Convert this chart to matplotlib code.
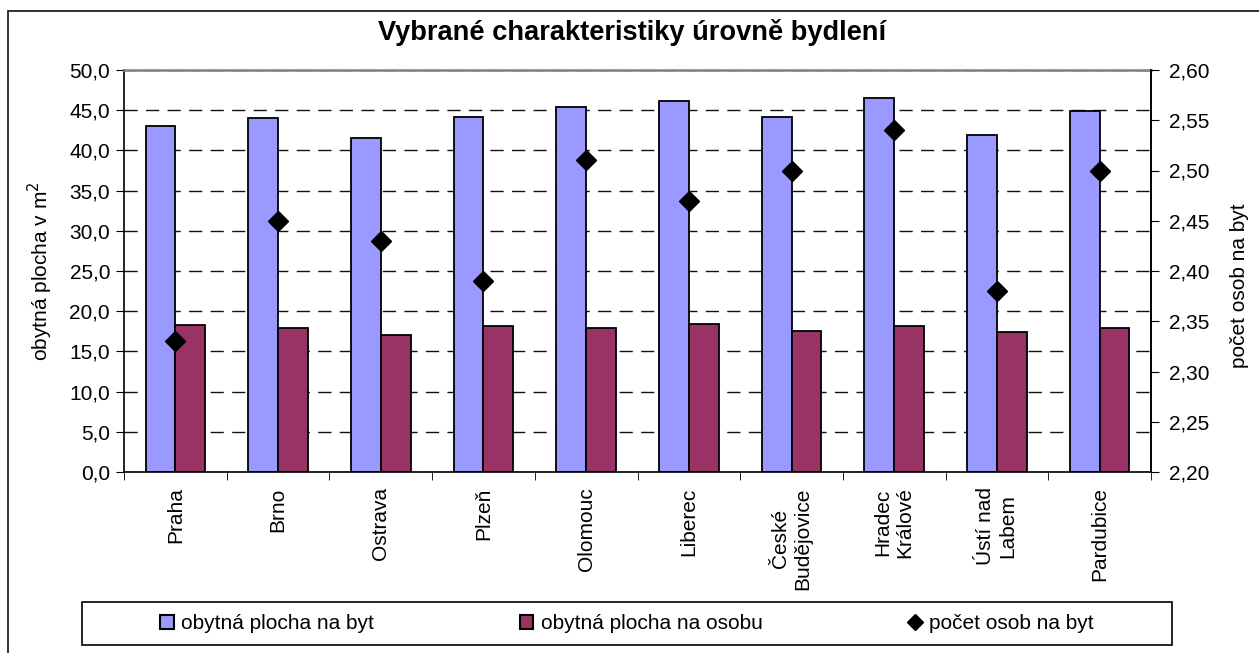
import matplotlib.pyplot as plt
import numpy as np
from matplotlib.lines import Line2D
from matplotlib.patches import Patch, Rectangle
from matplotlib.ticker import FuncFormatter, MultipleLocator

plt.rcParams['font.family'] = ['Liberation Sans', 'DejaVu Sans']

# data
mesta = ["Praha", "Brno", "Ostrava", "Plzeň", "Olomouc", "Liberec",
         "České\nBudějovice", "Hradec\nKrálové", "Ústí nad\nLabem", "Pardubice"]
plocha_byt = [43.0, 44.0, 41.5, 44.1, 45.4, 46.1, 44.2, 46.5, 41.9, 44.9]
plocha_osoba = [18.3, 17.9, 17.0, 18.2, 17.9, 18.4, 17.5, 18.1, 17.4, 17.9]
osob_byt = [2.33, 2.45, 2.43, 2.39, 2.51, 2.47, 2.50, 2.54, 2.38, 2.50]

modra = "#9999FF"
vinova = "#993366"

W, H = 1259, 653
fig = plt.figure(figsize=(W / 100, H / 100), dpi=100)

# okraj grafu (pravá a spodní strana jsou mimo obrázek)
fig.patches.append(Rectangle((8 / W, -0.05), 1.1, 1 - 11 / H + 0.05,
                             transform=fig.transFigure, fill=False,
                             edgecolor="#222222", linewidth=1.3))

ax = fig.add_axes([124 / W, 1 - 472 / H, (1151 - 124) / W, (472 - 70) / H])
x = np.arange(len(mesta))
sirka = 0.29
ax.bar(x - sirka / 2, plocha_byt, sirka, color=modra, edgecolor="black", linewidth=1.3, zorder=2)
ax.bar(x + sirka / 2, plocha_osoba, sirka, color=vinova, edgecolor="black", linewidth=1.3, zorder=2)

ax.set_xlim(-0.5, len(mesta) - 0.5)
ax.set_ylim(0, 50)
ax.yaxis.set_major_locator(MultipleLocator(5))
ax.yaxis.set_major_formatter(FuncFormatter(lambda v, p: f"{v:.1f}".replace(".", ",")))
ax.set_axisbelow(True)
ax.grid(axis="y", color="#111111", linestyle=(0, (9.5, 6)), linewidth=1)
gl = ax.yaxis.get_gridlines()
gl[0].set_visible(False)
gl[-1].set_visible(False)

ax.set_xticks(x)
ax.set_xticklabels(mesta, rotation=90, ha="center", va="top", multialignment="center", fontsize=15)
ax.set_xticks(np.arange(len(mesta) + 1) - 0.5, minor=True)
ax.tick_params(axis="x", which="major", length=0, pad=11)
ax.tick_params(axis="x", which="minor", length=6, direction="out", color="black")
ax.tick_params(axis="y", labelsize=15, length=6, direction="out", pad=4)
ax.set_ylabel("obytná plocha v m$^2$", fontsize=15, labelpad=10)

for s in ["left", "bottom", "right"]:
    ax.spines[s].set_color("black")
    ax.spines[s].set_linewidth(1.2)
ax.spines["top"].set_color("#808080")
ax.spines["top"].set_linewidth(1.8)

ax2 = ax.twinx()
ax2.plot(x, osob_byt, linestyle="none", marker="D", markersize=10,
         color="black", zorder=3)
ax2.set_ylim(2.2, 2.6)
ax2.yaxis.set_major_locator(MultipleLocator(0.05))
ax2.yaxis.set_major_formatter(FuncFormatter(lambda v, p: f"{v:.2f}".replace(".", ",")))
ax2.tick_params(axis="y", labelsize=15, length=6, direction="out", pad=7)
ax2.set_ylabel("počet osob na byt", fontsize=15)
ax2.yaxis.set_label_coords(1.077, 0.463)
for s in ["left", "top", "bottom"]:
    ax2.spines[s].set_visible(False)
ax2.spines["right"].set_linewidth(1.2)

fig.text(632 / W, 1 - 33 / H, "Vybrané charakteristiky úrovně bydlení",
         ha="center", va="center", fontsize=19.6, fontweight="bold")

# legenda
fig.patches.append(Rectangle((82 / W, 1 - 645 / H), (1172 - 82) / W, 43 / H,
                             transform=fig.transFigure, fill=False,
                             edgecolor="black", linewidth=1.2))
handles = [
    Patch(facecolor=modra, edgecolor="black", linewidth=1.5),
    Patch(facecolor=vinova, edgecolor="black", linewidth=1.5),
    Line2D([], [], linestyle="none", marker="D", markersize=8, color="black"),
]
labels = ["obytná plocha na byt", "obytná plocha na osobu", "počet osob na byt"]
fig.legend(handles, labels, loc="center", bbox_to_anchor=(627 / W, 1 - 623.5 / H),
           ncol=3, frameon=False, fontsize=15, handlelength=0.65, handleheight=0.65,
           handletextpad=0.35, columnspacing=7.0)

fig.savefig("out.png", dpi=100, facecolor="white")
